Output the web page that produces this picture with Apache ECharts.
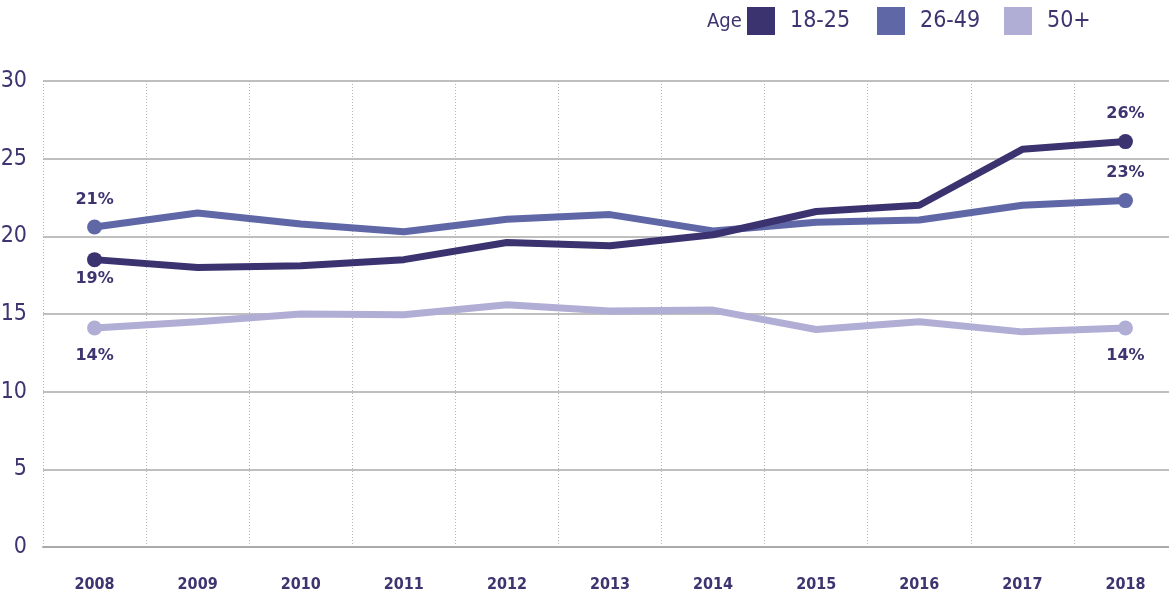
<!DOCTYPE html>
<html>
<head>
<meta charset="utf-8">
<script src="https://cdn.jsdelivr.net/npm/echarts@6/dist/echarts.min.js"></script>
<style>
html, body { margin: 0; padding: 0; background: #fff; }
#chart { width: 1169px; height: 597px; }
</style>
</head>
<body>
<div id="chart"></div>
<script>
// 数据
var years = ['2008', '2009', '2010', '2011', '2012', '2013', '2014', '2015', '2016', '2017', '2018'];
var age18to25 = [18.5, 18.0, 18.1, 18.5, 19.6, 19.4, 20.1, 21.6, 22.0, 25.6, 26.1];
var age26to49 = [20.6, 21.5, 20.8, 20.3, 21.1, 21.4, 20.35, 20.9, 21.05, 22.0, 22.3];
var age50plus = [14.1, 14.5, 15.0, 14.95, 15.6, 15.2, 15.25, 14.0, 14.5, 13.85, 14.1];
var seriesNames = ['18-25', '26-49', '50+'];
var startLabels = ['19%', '21%', '14%'];
var endLabels = ['26%', '23%', '14%'];
var yTicks = [0, 5, 10, 15, 20, 25, 30];

var colors = ['#3b3270', '#5f67a6', '#b1aed6'];
var textColor = '#3d3470';
var narrow = '"Liberation Sans Narrow", "DejaVu Sans Condensed", sans-serif';

// 首尾两点加圆点和标签
function buildData(values, idx, startPos, endPos, dist) {
    var last = values.length - 1;
    return values.map(function (v, i) {
        if (i === 0 || i === last) {
            return {
                value: v,
                symbol: 'circle',
                symbolSize: 15,
                label: {
                    show: true,
                    position: i === 0 ? startPos : endPos,
                    distance: i === 0 ? dist[0] : dist[1],
                    formatter: i === 0 ? startLabels[idx] : endLabels[idx],
                    color: textColor,
                    fontFamily: '"DejaVu Sans", sans-serif',
                    fontWeight: 'bold',
                    fontSize: 16
                }
            };
        }
        return { value: v, symbol: 'none' };
    });
}

var myChart = echarts.init(document.getElementById('chart'));

// 图例：每项单独定位
var legendLefts = [747, 877, 1004];
var legends = seriesNames.map(function (name, i) {
    return {
        data: [name],
        top: 7,
        left: legendLefts[i],
        padding: 0,
        itemWidth: 28,
        itemHeight: 28,
        icon: 'rect',
        textStyle: { color: textColor, fontFamily: narrow, fontSize: 23, padding: [0, 0, 0, 10] }
    };
});

var option = {
    animation: false,
    color: colors,
    grid: { left: 43, right: -8, top: 81, bottom: 50, outerBoundsMode: 'none' },
    legend: legends,
    graphic: [{
        type: 'text',
        left: 707,
        top: 12,
        style: { text: 'Age', fill: textColor, font: '20px ' + narrow }
    }],
    xAxis: {
        type: 'category',
        data: years,
        boundaryGap: true,
        axisTick: { show: false },
        axisLine: { lineStyle: { color: '#aaaaaa', width: 2 } },
        splitLine: { show: true, interval: 0, lineStyle: { color: '#b5b5b5', type: [1, 2], width: 1 } },
        axisLabel: {
            interval: 0,
            margin: 30,
            color: textColor,
            fontFamily: narrow,
            fontWeight: 'bold',
            fontSize: 16
        }
    },
    yAxis: {
        type: 'value',
        min: 0,
        max: 30,
        interval: 5,
        axisLine: { show: false },
        axisTick: { show: false },
        splitLine: { lineStyle: { color: '#aaaaaa', width: 1.5 } },
        axisLabel: {
            margin: 16,
            color: textColor,
            fontFamily: narrow,
            fontSize: 23,
            formatter: function (v) { return yTicks.indexOf(v) >= 0 ? String(v) : ''; }
        }
    },
    series: [{
        name: seriesNames[0],
        type: 'line',
        z: 4,
        data: buildData(age18to25, 0, 'bottom', 'top', [4, 12]),
        lineStyle: { width: 7, color: colors[0] },
        itemStyle: { color: colors[0] }
    }, {
        name: seriesNames[1],
        type: 'line',
        z: 3,
        data: buildData(age26to49, 1, 'top', 'top', [12, 12]),
        lineStyle: { width: 7, color: colors[1] },
        itemStyle: { color: colors[1] }
    }, {
        name: seriesNames[2],
        type: 'line',
        z: 2,
        data: buildData(age50plus, 2, 'bottom', 'bottom', [12, 12]),
        lineStyle: { width: 7, color: colors[2] },
        itemStyle: { color: colors[2] }
    }]
};
myChart.setOption(option);
</script>
</body>
</html>
